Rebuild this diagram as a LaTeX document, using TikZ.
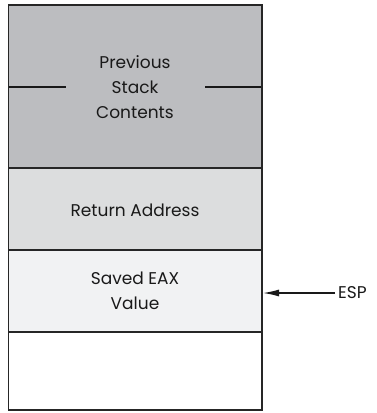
\documentclass[tikz,border=0pt]{standalone}
\usepackage{fontspec}
\setmainfont{Poppins}
\usetikzlibrary{arrows.meta}
\definecolor{gA}{HTML}{BCBDC0}
\definecolor{gB}{HTML}{DCDDDE}
\definecolor{gC}{HTML}{F1F2F3}
\begin{document}
\begin{tikzpicture}[x=1pt,y=-1pt,
  cell/.style={draw=black!85,line width=1.4pt},
  lbl/.style={font=\fontsize{17}{25}\selectfont,align=center,text=black!90,inner sep=0pt},
  conn/.style={line width=1.3pt,draw=black!90}]
\useasboundingbox (0,0) rectangle (377,413);
\filldraw[cell,fill=gA] (8.5,5) rectangle (262,168);
\filldraw[cell,fill=gB] (8.5,168) rectangle (262,250);
\filldraw[cell,fill=gC] (8.5,250) rectangle (262,332);
\filldraw[cell,fill=white] (8.5,332) rectangle (262,410);
\node[lbl] (prev) at (135,87) {Previous\\Stack\\Contents};
\node[lbl] (ret) at (135,210) {Return Address};
\node[lbl] (sav) at (135,291) {Saved EAX\\Value};
\node[lbl,anchor=west] (esp) at (338,293) {ESP};
\coordinate (l1) at (9,87);
\coordinate (l2) at (66,87);
\coordinate (r1) at (205,87);
\coordinate (r2) at (261,87);
\coordinate (tip) at (263,293);
\coordinate (tail) at (335,293);
\draw[conn] (l1) -- (l2);
\draw[conn] (r1) -- (r2);
\draw[conn,-{Latex[length=16pt,width=7pt]}] (tail) -- (tip);
\end{tikzpicture}
\end{document}
